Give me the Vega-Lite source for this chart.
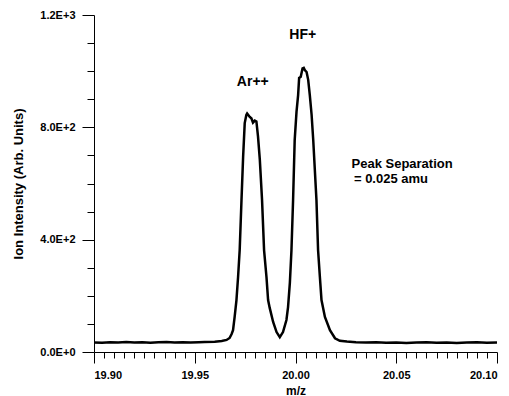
{
  "$schema": "https://vega.github.io/schema/vega-lite/v6.json",
  "autosize": "none",
  "width": 403,
  "height": 337,
  "padding": {"left": 94, "top": 15, "right": 12, "bottom": 44},
  "background": "white",
  "config": {
    "view": {"stroke": null},
    "font": "Liberation Sans",
    "axis": {
      "grid": false,
      "domainColor": "black",
      "tickColor": "black",
      "domainWidth": 1,
      "tickWidth": 1,
      "labelFont": "Liberation Sans",
      "labelFontWeight": "bold",
      "labelFontSize": 11,
      "labelColor": "black",
      "titleFont": "Liberation Sans",
      "titleFontWeight": "bold",
      "titleColor": "black",
      "labelOverlap": false
    }
  },
  "datasets": {
    "spectrum": [
      {"mz": 19.9, "I": 34},
      {"mz": 19.904, "I": 33},
      {"mz": 19.908, "I": 35},
      {"mz": 19.912, "I": 34},
      {"mz": 19.916, "I": 36},
      {"mz": 19.92, "I": 34},
      {"mz": 19.924, "I": 35},
      {"mz": 19.928, "I": 33},
      {"mz": 19.932, "I": 35},
      {"mz": 19.936, "I": 36},
      {"mz": 19.94, "I": 34},
      {"mz": 19.944, "I": 35},
      {"mz": 19.948, "I": 34},
      {"mz": 19.952, "I": 35},
      {"mz": 19.9549, "I": 35.6},
      {"mz": 19.9599, "I": 36.7},
      {"mz": 19.9634, "I": 39},
      {"mz": 19.9658, "I": 43},
      {"mz": 19.9673, "I": 50},
      {"mz": 19.9683, "I": 64},
      {"mz": 19.969, "I": 78},
      {"mz": 19.9698, "I": 125},
      {"mz": 19.9707, "I": 185},
      {"mz": 19.9715, "I": 267},
      {"mz": 19.9723, "I": 363},
      {"mz": 19.9732, "I": 541},
      {"mz": 19.974, "I": 694},
      {"mz": 19.9748, "I": 815},
      {"mz": 19.9756, "I": 844},
      {"mz": 19.976, "I": 849},
      {"mz": 19.9773, "I": 837},
      {"mz": 19.9781, "I": 832},
      {"mz": 19.9789, "I": 817},
      {"mz": 19.9798, "I": 824},
      {"mz": 19.9806, "I": 821},
      {"mz": 19.9814, "I": 767},
      {"mz": 19.9823, "I": 684},
      {"mz": 19.9834, "I": 541},
      {"mz": 19.9844, "I": 363},
      {"mz": 19.9856, "I": 267},
      {"mz": 19.9864, "I": 185},
      {"mz": 19.9872, "I": 157},
      {"mz": 19.9889, "I": 107},
      {"mz": 19.9906, "I": 71},
      {"mz": 19.9922, "I": 53},
      {"mz": 19.9938, "I": 71},
      {"mz": 19.9955, "I": 114},
      {"mz": 19.9963, "I": 160},
      {"mz": 19.9972, "I": 246},
      {"mz": 19.998, "I": 363},
      {"mz": 19.9988, "I": 541},
      {"mz": 19.9996, "I": 755},
      {"mz": 20.0005, "I": 855},
      {"mz": 20.0013, "I": 915},
      {"mz": 20.0018, "I": 976},
      {"mz": 20.0026, "I": 980},
      {"mz": 20.0035, "I": 1010},
      {"mz": 20.0041, "I": 1012},
      {"mz": 20.0046, "I": 1004},
      {"mz": 20.0055, "I": 997},
      {"mz": 20.0063, "I": 969},
      {"mz": 20.0071, "I": 915},
      {"mz": 20.008, "I": 844},
      {"mz": 20.0088, "I": 755},
      {"mz": 20.0104, "I": 541},
      {"mz": 20.0112, "I": 363},
      {"mz": 20.0121, "I": 267},
      {"mz": 20.0129, "I": 185},
      {"mz": 20.0146, "I": 125},
      {"mz": 20.0171, "I": 78},
      {"mz": 20.0196, "I": 49},
      {"mz": 20.022, "I": 40},
      {"mz": 20.0255, "I": 37},
      {"mz": 20.03, "I": 35},
      {"mz": 20.035, "I": 34},
      {"mz": 20.04, "I": 35},
      {"mz": 20.045, "I": 33},
      {"mz": 20.05, "I": 34},
      {"mz": 20.055, "I": 32},
      {"mz": 20.06, "I": 34},
      {"mz": 20.065, "I": 35},
      {"mz": 20.07, "I": 33},
      {"mz": 20.075, "I": 34},
      {"mz": 20.08, "I": 32},
      {"mz": 20.085, "I": 34},
      {"mz": 20.09, "I": 35},
      {"mz": 20.095, "I": 33},
      {"mz": 20.1, "I": 34}
    ],
    "peaks": [
      {"mz": 20.0036, "I": 1129, "text": "HF+"},
      {"mz": 19.9788, "I": 962, "text": "Ar++"}
    ],
    "note": [
      {"mz": 20.0278, "I": 668, "text": "Peak Separation"},
      {"mz": 20.029, "I": 616, "text": "= 0.025 amu"}
    ]
  },
  "encoding": {
    "x": {
      "field": "mz",
      "type": "quantitative",
      "scale": {"domain": [19.9, 20.1], "nice": false, "zero": false},
      "axis": {
        "title": "m/z",
        "titleFontSize": 12,
        "titlePadding": 5,
        "tickCount": 200,
        "labelOverlap": false,
        "values": [19.9, 19.905, 19.91, 19.915, 19.92, 19.925, 19.93, 19.935, 19.94, 19.945, 19.95, 19.955, 19.96, 19.965, 19.97, 19.975, 19.98, 19.985, 19.99, 19.995, 20.0, 20.005, 20.01, 20.015, 20.02, 20.025, 20.03, 20.035, 20.04, 20.045, 20.05, 20.055, 20.06, 20.065, 20.07, 20.075, 20.08, 20.085, 20.09, 20.095, 20.1],
        "labelExpr": "abs(round(datum.value*1000) % 50) < 1 ? format(datum.value, '.2f') : ''",
        "tickSize": {"condition": {"test": "abs(round(datum.value*1000) % 50) < 1", "value": 11}, "value": 6},
        "labelPadding": 6
      }
    },
    "y": {
      "field": "I",
      "type": "quantitative",
      "scale": {"domain": [0, 1200], "nice": false},
      "axis": {
        "title": "Ion Intensity (Arb. Units)",
        "titleFontSize": 13,
        "titlePadding": 14,
        "tickCount": 200,
        "labelOverlap": false,
        "values": [0, 100, 200, 300, 400, 500, 600, 700, 800, 900, 1000, 1100, 1200],
        "labelExpr": "datum.value % 400 === 0 ? replace(format(datum.value, '.1e'), 'e', 'E') : ''",
        "tickSize": {"condition": {"test": "datum.value % 400 === 0", "value": 12}, "value": 7},
        "labelPadding": 7
      }
    }
  },
  "layer": [
    {
      "data": {"name": "spectrum"},
      "mark": {"type": "line", "color": "black", "strokeWidth": 2.5, "clip": true}
    },
    {
      "data": {"name": "peaks"},
      "mark": {"type": "text", "fontWeight": "bold", "fontSize": 14, "color": "black", "baseline": "middle", "align": "center", "font": "Liberation Sans"},
      "encoding": {"text": {"field": "text"}}
    },
    {
      "data": {"name": "note"},
      "mark": {"type": "text", "fontWeight": "bold", "fontSize": 13, "color": "black", "baseline": "middle", "align": "left", "font": "Liberation Sans"},
      "encoding": {"text": {"field": "text"}}
    }
  ]
}
